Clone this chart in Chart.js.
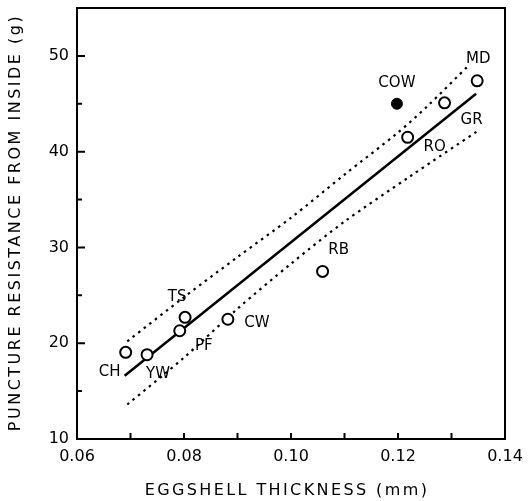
<!DOCTYPE html>
<html>
<head>
<meta charset="utf-8">
<script src="https://cdn.jsdelivr.net/npm/chart.js@4"></script>
<style>
  body { margin: 0; background: #fff; }
  canvas { display: block; }
</style>
</head>
<body>
<canvas id="eggChart" width="532" height="501"></canvas>
<script>
// Species (open circles)
const species = ['CH', 'YW', 'PF', 'TS', 'CW', 'RB', 'RO', 'GR', 'MD'];
const thickness = [0.0691, 0.0731, 0.0792, 0.0802, 0.0882, 0.1059, 0.1218, 0.1287, 0.1348];
const resistance = [19.05, 18.8, 21.3, 22.7, 22.5, 27.5, 41.5, 45.1, 47.4];

// Cowbird (filled circle)
const cowLabel = ['COW'];
const cowThickness = [0.1198];
const cowResistance = [45.0];

// Regression line
const fitX = [0.0689, 0.1346];
const fitY = [16.6, 46.05];

// Confidence band (dotted)
const upperX = [0.0694, 0.080, 0.090, 0.100, 0.110, 0.120, 0.1254, 0.1332];
const upperY = [20.2, 24.8, 29.0, 33.1, 37.6, 42.0, 44.7, 49.0];
const lowerX = [0.0694, 0.080, 0.090, 0.100, 0.110, 0.1222, 0.1350];
const lowerY = [13.6, 18.5, 23.6, 28.3, 32.7, 37.4, 42.2];

// Axis
const xTitle = 'EGGSHELL THICKNESS (mm)';
const yTitle = 'PUNCTURE RESISTANCE FROM INSIDE (g)';

// label offsets (px) relative to the marker
const labelOffset = {
    CH: [-16, 20], YW: [11, 19], PF: [24, 15], TS: [-8, -20], CW: [29, 4],
    RB: [16, -21], RO: [27, 10], GR: [27, 17], MD: [1, -22], COW: [0, -21]
};

const FONT = '"DejaVu Sans", sans-serif';
const toXY = (xs, ys) => xs.map((x, i) => ({ x: x, y: ys[i] }));

const frameAndLabels = {
    id: 'frameAndLabels',
    afterDraw(chart) {
        const { ctx, chartArea: a, scales } = chart;
        const xs = scales.x, ys = scales.y;
        ctx.save();
        ctx.strokeStyle = '#000';
        ctx.fillStyle = '#000';
        ctx.lineWidth = 2;
        ctx.strokeRect(a.left, a.top, a.right - a.left, a.bottom - a.top);

        // inward ticks
        ctx.beginPath();
        xs.ticks.forEach(t => {
            const px = xs.getPixelForValue(t.value);
            if (px <= a.left + 1 || px >= a.right - 1) return;
            ctx.moveTo(px, a.bottom);
            ctx.lineTo(px, a.bottom - 6);
        });
        ys.ticks.forEach(t => {
            const py = ys.getPixelForValue(t.value);
            if (py >= a.bottom - 1 || py <= a.top + 1) return;
            const len = Math.round(t.value) % 10 === 0 ? 8 : 5;
            ctx.moveTo(a.left, py);
            ctx.lineTo(a.left + len, py);
        });
        ctx.stroke();

        // point labels
        ctx.font = '15px ' + FONT;
        ctx.textAlign = 'center';
        ctx.textBaseline = 'middle';
        chart.getDatasetMeta(0).data.forEach((pt, i) => {
            const off = labelOffset[species[i]];
            ctx.fillText(species[i], pt.x + off[0], pt.y + off[1]);
        });
        chart.getDatasetMeta(1).data.forEach((pt, i) => {
            const off = labelOffset[cowLabel[i]];
            ctx.fillText(cowLabel[i], pt.x + off[0], pt.y + off[1]);
        });

        // axis titles
        ctx.font = '16px ' + FONT;
        ctx.letterSpacing = '2.4px';
        ctx.fillText(xTitle, (a.left + a.right) / 2 - 4, 491);
        ctx.translate(16, (a.top + a.bottom) / 2);
        ctx.rotate(-Math.PI / 2);
        ctx.letterSpacing = '2.5px';
        ctx.fillText(yTitle, 1, 0);
        ctx.restore();
    }
};

new Chart(document.getElementById('eggChart').getContext('2d'), {
    type: 'scatter',
    data: {
        datasets: [
            {
                label: 'species',
                data: toXY(thickness, resistance),
                pointRadius: 5.5,
                pointBorderWidth: 2,
                pointBackgroundColor: '#fff',
                pointBorderColor: '#000'
            },
            {
                label: 'cowbird',
                data: toXY(cowThickness, cowResistance),
                pointRadius: 5.5,
                pointBorderWidth: 1,
                pointBackgroundColor: '#000',
                pointBorderColor: '#000'
            },
            {
                label: 'fit',
                type: 'line',
                data: toXY(fitX, fitY),
                borderColor: '#000',
                borderWidth: 2.5,
                pointRadius: 0
            },
            {
                label: 'upper',
                type: 'line',
                data: toXY(upperX, upperY),
                borderColor: '#000',
                borderWidth: 2.2,
                borderDash: [2.5, 4.5],
                tension: 0.3,
                pointRadius: 0
            },
            {
                label: 'lower',
                type: 'line',
                data: toXY(lowerX, lowerY),
                borderColor: '#000',
                borderWidth: 2.2,
                borderDash: [2.5, 4.5],
                tension: 0.3,
                pointRadius: 0
            }
        ]
    },
    options: {
        responsive: false,
        animation: false,
        layout: { padding: { top: 8, right: 27, left: 0, bottom: 0 } },
        plugins: {
            legend: { display: false },
            tooltip: { enabled: false }
        },
        scales: {
            x: {
                type: 'linear',
                min: 0.06,
                max: 0.14,
                grid: { display: false, drawTicks: false },
                border: { display: false },
                ticks: {
                    stepSize: 0.01,
                    autoSkip: false,
                    maxRotation: 0,
                    padding: 8,
                    color: '#000',
                    font: { family: FONT, size: 16 },
                    callback: v => Math.round(v * 100) % 2 === 0 ? v.toFixed(2) : ''
                },
                afterFit: s => { s.height = 62; }
            },
            y: {
                type: 'linear',
                min: 10,
                max: 55,
                grid: { display: false, drawTicks: false },
                border: { display: false },
                ticks: {
                    stepSize: 5,
                    autoSkip: false,
                    padding: 8,
                    color: '#000',
                    font: { family: FONT, size: 16 },
                    callback: v => Math.round(v) % 10 === 0 ? v : ''
                },
                afterFit: s => { s.width = 77; s.paddingTop = 0; }
            }
        }
    },
    plugins: [frameAndLabels]
});
</script>
</body>
</html>
